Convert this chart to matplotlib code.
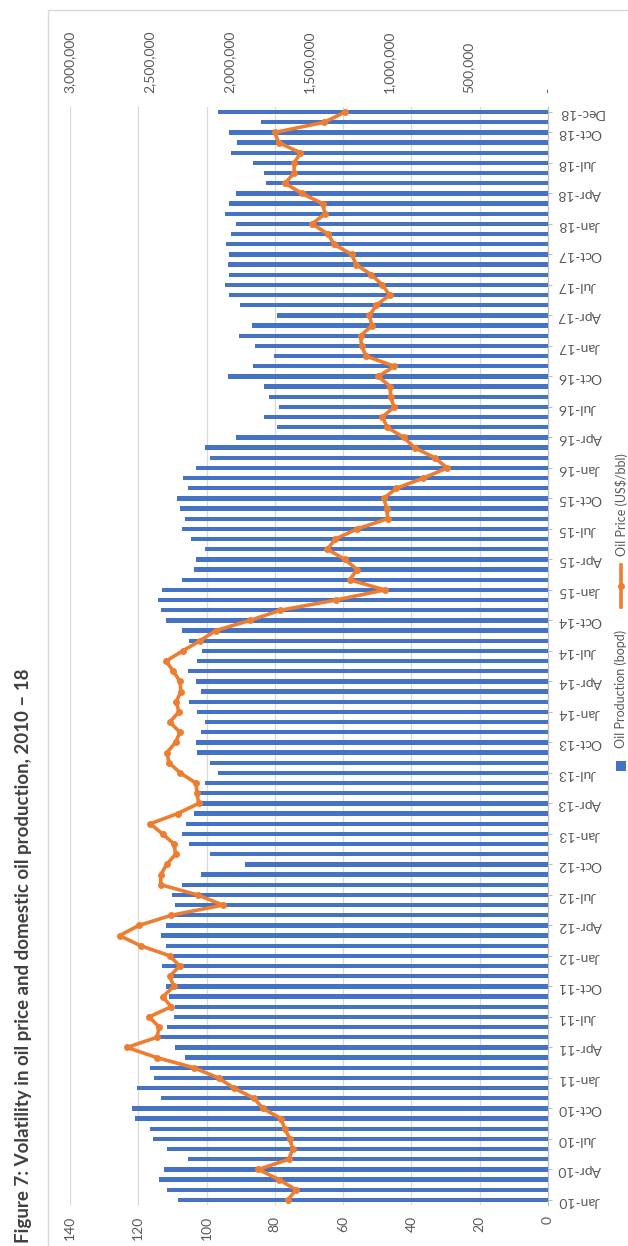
import matplotlib
matplotlib.use("Agg")
import matplotlib.pyplot as plt
from matplotlib.patches import Rectangle
from matplotlib.lines import Line2D
from matplotlib.ticker import FuncFormatter

# ---- data -------------------------------------------------------------
years = [10, 11, 12, 13, 14, 15, 16, 17, 18]
month_names = ["Jan", "Feb", "Mar", "Apr", "May", "Jun",
               "Jul", "Aug", "Sep", "Oct", "Nov", "Dec"]
months = [f"{m}-{y}" for y in years for m in month_names]

# Oil production, barrels of oil per day
production = [
    2320000, 2390000, 2440000, 2410000, 2260000, 2390000, 2480000, 2500000, 2590000, 2610000, 2430000, 2580000,
    2470000, 2500000, 2280000, 2340000, 2440000, 2390000, 2350000, 2340000, 2380000, 2400000, 2360000, 2420000,
    2370000, 2400000, 2430000, 2400000, 2380000, 2340000, 2360000, 2300000, 2180000, 1900000, 2120000, 2250000,
    2300000, 2270000, 2220000, 2180000, 2200000, 2150000, 2070000, 2120000, 2200000, 2210000, 2180000, 2150000,
    2200000, 2250000, 2180000, 2210000, 2260000, 2200000, 2170000, 2250000, 2300000, 2400000, 2430000, 2450000,
    2420000, 2300000, 2220000, 2210000, 2150000, 2240000, 2300000, 2280000, 2310000, 2330000, 2260000, 2290000,
    2210000, 2120000, 2150000, 1960000, 1700000, 1780000, 1690000, 1750000, 1780000, 2010000, 1850000, 1720000,
    1840000, 1940000, 1860000, 1700000, 1930000, 2000000, 2030000, 2000000, 2010000, 2000000, 2020000, 1990000,
    1960000, 2030000, 2000000, 1960000, 1770000, 1780000, 1850000, 1990000, 1950000, 2000000, 1800000, 2070000,
]

# Oil price, US$ per barrel
price = [
    76.2, 73.8, 78.8, 84.8, 75.9, 74.8, 75.6, 77.1, 78.2, 83.5, 86.1, 92.0,
    96.5, 103.7, 114.6, 123.3, 114.5, 113.9, 116.8, 110.4, 112.8, 109.6, 110.8, 107.9,
    110.7, 119.3, 125.5, 119.8, 110.3, 95.2, 102.6, 113.4, 113.4, 111.7, 109.1, 109.5,
    112.9, 116.5, 108.5, 102.3, 102.8, 103.1, 107.7, 111.0, 111.6, 109.1, 107.8, 110.8,
    108.1, 108.9, 107.5, 107.8, 109.7, 111.9, 107.0, 101.9, 97.3, 87.3, 78.4, 62.2,
    47.8, 58.1, 55.9, 59.5, 64.6, 62.3, 55.9, 47.0, 47.2, 48.1, 44.4, 36.5,
    29.5, 33.2, 39.1, 42.3, 47.1, 48.5, 45.1, 46.1, 46.2, 49.7, 45.0, 53.3,
    54.6, 54.9, 51.6, 52.3, 50.3, 46.4, 48.5, 51.7, 56.2, 57.5, 62.7, 64.4,
    69.1, 65.3, 66.0, 72.1, 77.0, 74.4, 74.3, 72.5, 78.9, 80.0, 65.5, 59.5,
]

price_ticks = [0, 20, 40, 60, 80, 100, 120, 140]
production_ticks = [0, 500000, 1000000, 1500000, 2000000, 2500000, 3000000]
label_months = list(range(0, len(months), 3)) + [len(months) - 1]

title = "Figure 7: Volatility in oil price and domestic oil production, 2010 \u2013 18"
legend_labels = ["Oil Production (bopd)", "Oil Price (US$/bbl)"]

# ---- style ------------------------------------------------------------
W, H = 628, 1246
FONT = "Lato"
TICK_COLOR = "#595959"
GRID_COLOR = "#d9d9d9"
BAR_COLOR = "#4472C4"
LINE_COLOR = "#ED7D31"
TICK_SIZE = 10

plt.rcParams["font.family"] = [FONT, "DejaVu Sans"]


def fx(px):
    return px / W


def fy(py):
    return 1 - py / H


fig = plt.figure(figsize=(W / 100, H / 100), dpi=100)
fig.patch.set_facecolor("white")

# Page-rotated chart: the time axis runs bottom-to-top, values grow leftwards
left, right, top, bottom = 70, 548, 107, 1205
rect = [fx(left), fy(bottom), fx(right) - fx(left), fy(top) - fy(bottom)]

# Base axes: price scale, gridlines and the month axis
ax = fig.add_axes(rect)
ax.set_xlim(price_ticks[-1], price_ticks[0])
ax.set_ylim(-0.5, len(months) - 0.5)
ax.set_xticks(price_ticks)
ax.set_xticklabels([str(t) for t in price_ticks], rotation=90)
ax.tick_params(axis="x", length=0, pad=8, labelsize=TICK_SIZE, labelcolor=TICK_COLOR)
ax.grid(axis="x", color=GRID_COLOR, linewidth=0.9)
ax.set_axisbelow(True)
for side in ["top", "bottom", "left"]:
    ax.spines[side].set_visible(False)
ax.spines["right"].set_color("#bfbfbf")
ax.spines["right"].set_linewidth(0.9)
ax.yaxis.tick_right()
ax.set_yticks(label_months)
ax.set_yticklabels([months[i] for i in label_months], rotation=180)
ax.tick_params(axis="y", direction="out", length=3, width=0.8, color="#bfbfbf",
               pad=4, labelsize=TICK_SIZE, labelcolor=TICK_COLOR)

# Production bars on the secondary scale
axp = ax.twiny()
axp.set_xlim(production_ticks[-1], production_ticks[0])
axp.barh(range(len(months)), production, height=0.42, color=BAR_COLOR, zorder=2)
axp.set_xticks(production_ticks)
axp.xaxis.set_major_formatter(FuncFormatter(lambda v, _: "-" if v == 0 else f"{int(v):,}"))
for lab in axp.get_xticklabels():
    lab.set_rotation(90)
axp.tick_params(axis="x", length=0, pad=10, labelsize=TICK_SIZE, labelcolor=TICK_COLOR)
for s in axp.spines.values():
    s.set_visible(False)

# Price line on top of the bars
axl = ax.twiny()
axl.set_xlim(price_ticks[-1], price_ticks[0])
axl.plot(price, range(len(months)), color=LINE_COLOR, linewidth=2.6,
         marker="o", markersize=5, markeredgewidth=0, zorder=3)
axl.xaxis.set_visible(False)
for s in axl.spines.values():
    s.set_visible(False)

# Chart-area border
fig.add_artist(Rectangle((fx(48), fy(1400)), fx(800) - fx(48), fy(10) - fy(1400),
                         transform=fig.transFigure, fill=False,
                         edgecolor=GRID_COLOR, linewidth=1.0))

# Title
fig.text(fx(23), fy(1243), title, rotation=90, rotation_mode="anchor",
         ha="left", va="center", fontsize=13.5, fontweight="bold", color="#404040")

# Legend
fig.add_artist(Rectangle((fx(616), fy(771)), fx(10), fx(10) * W / H,
                         transform=fig.transFigure, facecolor=BAR_COLOR, edgecolor="none"))
fig.text(fx(621), fy(748), legend_labels[0], rotation=90, rotation_mode="anchor",
         ha="left", va="center", fontsize=9, color=TICK_COLOR)
fig.add_artist(Line2D([fx(621), fx(621)], [fy(607), fy(565)], transform=fig.transFigure,
                      color=LINE_COLOR, linewidth=2.6))
fig.add_artist(Line2D([fx(621)], [fy(586)], transform=fig.transFigure, color=LINE_COLOR,
                      marker="o", markersize=5, markeredgewidth=0))
fig.text(fx(621), fy(556), legend_labels[1], rotation=90, rotation_mode="anchor",
         ha="left", va="center", fontsize=9, color=TICK_COLOR)

fig.savefig("out.png", dpi=100, facecolor="white")
